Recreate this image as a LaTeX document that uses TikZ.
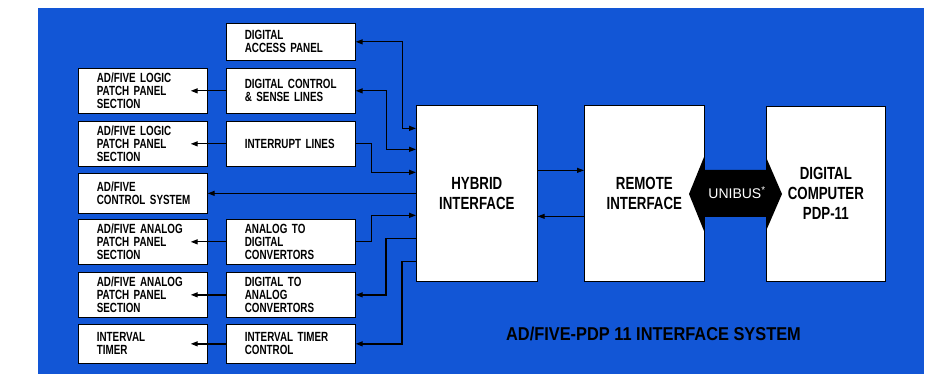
\documentclass[tikz,border=0pt]{standalone}
\usepackage{fontspec}
\usetikzlibrary{arrows.meta}
\newfontfamily\fsmall{Liberation Sans}[FakeStretch=0.74]
\newfontfamily\fbig{Liberation Sans}[FakeStretch=0.755]
\newfontfamily\ftitle{Liberation Sans}[FakeStretch=0.88]
\newfontfamily\fbus{Liberation Sans}
\definecolor{bgblue}{RGB}{18,86,214}
\begin{document}
\begin{tikzpicture}[x=1pt,y=-1pt,
  sbox/.style={draw=black, line width=0.7pt, fill=white, rectangle, anchor=north west,
    inner xsep=0pt, inner ysep=0pt, text width=92pt, align=left, minimum width=129pt,
    font=\fsmall\bfseries\fontsize{13.3}{13}\selectfont},
  bbox/.style={draw=black, line width=0.7pt, fill=white, rectangle, anchor=north west,
    inner sep=0pt, align=center, font=\fbig\bfseries\fontsize{17.6}{20}\selectfont},
  con/.style={line width=1.3pt, black},
  tip/.style={-{Triangle[length=7pt,width=5pt]}},
  tips/.style={{Triangle[length=7pt,width=5pt]}-{Triangle[length=7pt,width=5pt]}}
]
\useasboundingbox (0,0) rectangle (932,374);
\fill[bgblue] (38,8) rectangle (924,374);

% middle column
\node[sbox, minimum height=37pt] (dap) at (226,23) {\mbox{DIGITAL}\\\mbox{ACCESS PANEL}};
\node[sbox, minimum height=45pt] (dcs) at (226,68) {\mbox{DIGITAL CONTROL}\\\mbox{\& SENSE LINES}};
\node[sbox, minimum height=45pt] (irq) at (226,121) {\mbox{INTERRUPT LINES}};
\node[sbox, minimum height=45pt] (adc) at (226,219) {\mbox{ANALOG TO}\\\mbox{DIGITAL}\\\mbox{CONVERTORS}};
\node[sbox, minimum height=45pt] (dac) at (226,272) {\mbox{DIGITAL TO}\\\mbox{ANALOG}\\\mbox{CONVERTORS}};
\node[sbox, minimum height=39pt] (itc) at (226,324) {\mbox{INTERVAL TIMER}\\\mbox{CONTROL}};

% left column
\node[sbox, minimum height=45pt] (lp1) at (78,68) {\mbox{AD/FIVE LOGIC}\\\mbox{PATCH PANEL}\\\mbox{SECTION}};
\node[sbox, minimum height=45pt] (lp2) at (78,121) {\mbox{AD/FIVE LOGIC}\\\mbox{PATCH PANEL}\\\mbox{SECTION}};
\node[sbox, minimum height=40pt] (ctl) at (78,173) {\mbox{AD/FIVE}\\\mbox{CONTROL SYSTEM}};
\node[sbox, minimum height=45pt] (ap1) at (78,219) {\mbox{AD/FIVE ANALOG}\\\mbox{PATCH PANEL}\\\mbox{SECTION}};
\node[sbox, minimum height=45pt] (ap2) at (78,272) {\mbox{AD/FIVE ANALOG}\\\mbox{PATCH PANEL}\\\mbox{SECTION}};
\node[sbox, minimum height=39pt] (itm) at (78,324) {\mbox{INTERVAL}\\\mbox{TIMER}};

% big boxes
\node[bbox, minimum width=121pt, minimum height=176pt] (hyb) at (416,105) {HYBRID\\INTERFACE};
\node[bbox, minimum width=120pt, minimum height=176pt] (rem) at (584,105) {REMOTE\\INTERFACE};
\node[bbox, minimum width=119pt, minimum height=175pt] (cmp) at (766,106) {DIGITAL\\COMPUTER\\PDP-11};

% connectors to hybrid
\draw[con,tips] (dap.east) -- ++(47,0) |- ([yshift=65pt]hyb.west);
\draw[con,tips] (dcs.east) -- ++(31,0) |- ([yshift=44pt]hyb.west);
\draw[con,tip] (irq.east) -- ++(16,0) |- ([yshift=21pt]hyb.west);
\draw[con,tip] (hyb.west |- ctl.east) -- (ctl.east);
\draw[con,tip] (adc.east) -- ++(16,0) |- ([yshift=-22pt]hyb.west);
\draw[con,tip] ([yshift=-45pt]hyb.west) -- ++(-30,0) |- (dac.east);
\draw[con,tip] ([yshift=-68pt]hyb.west) -- ++(-14,0) |- (itc.east);

% left arrows
\draw[con,tip] (dcs.west) -- ([xshift=-17pt]lp1.east);
\draw[con,tip] (irq.west) -- ([xshift=-17pt]lp2.east);
\draw[con,tip] (adc.west) -- ([xshift=-17pt]ap1.east);
\draw[con,tip] (dac.west) -- ([xshift=-17pt]ap2.east);
\draw[con,tip] (itc.west) -- ([xshift=-17pt]itm.east);

% hybrid <-> remote
\draw[con,line width=1pt,tip] ([yshift=23pt]hyb.east) -- ([yshift=23pt]rem.west);
\draw[con,line width=1pt,tip] ([yshift=-23pt]rem.west) -- ([yshift=-23pt]hyb.east);

% unibus
\fill[black] (689,194) -- (704,157) -- (704,170) -- (766,170) -- (766,157) -- (782,194)
  -- (766,231) -- (766,217) -- (704,217) -- (704,231) -- cycle;
\node[text=white, font=\fbus\fontsize{14}{14}\selectfont, inner sep=0pt] (bus) at (737,193) {UNIBUS\textsuperscript{*}};

% title
\node[font=\ftitle\bfseries\fontsize{18.6}{20}\selectfont, text=black, inner sep=0pt, anchor=base] (title) at (653.5,340) {AD/FIVE-PDP 11 INTERFACE SYSTEM};
\end{tikzpicture}
\end{document}
